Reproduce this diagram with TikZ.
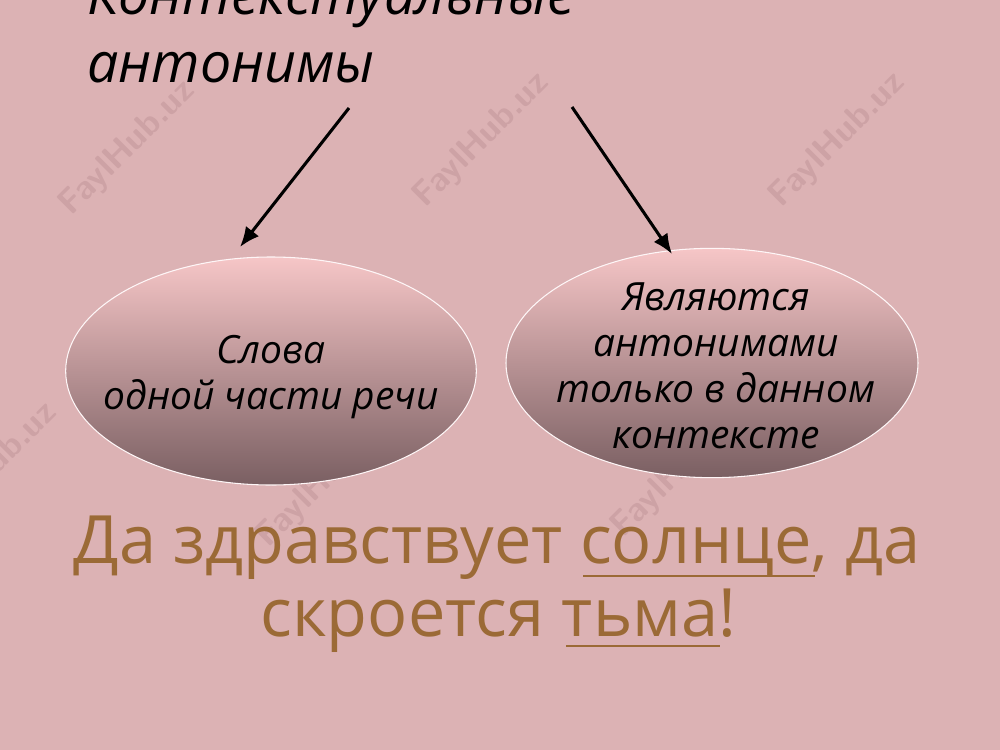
\documentclass[tikz,border=0pt]{standalone}
\usepackage{fontspec}
\setmainfont{Open Sans}
\usetikzlibrary{shapes.geometric,arrows.meta}
\definecolor{bg}{HTML}{DCB2B4}
\definecolor{eltop}{HTML}{F6C6C7}
\definecolor{elbot}{HTML}{7A5F62}
\definecolor{brownt}{HTML}{9B6A36}
\definecolor{wm}{HTML}{CDA2A5}
\tikzset{
  oval/.style={ellipse, draw=white!85!eltop, line width=0.8pt, top color=eltop, bottom color=elbot, inner sep=0pt},
  ovaltext/.style={align=center, font=\fontsize{29.2}{34.5}\selectfont\itshape, text=black},
  titletext/.style={font=\fontsize{41.6}{51}\selectfont\itshape, text=black, inner sep=0pt},
  saying/.style={font=\fontsize{50}{54}\selectfont, text=brownt, inner sep=0pt},
  arr/.style={-{Latex[length=15pt,width=12.5pt]}, line width=2.3pt, black},
  uline/.style={brownt, line width=2pt},
  wmark/.style={font=\sffamily\bfseries\fontsize{26}{26}\selectfont, text=wm, rotate=45, inner sep=0pt}
}
\begin{document}
\begin{tikzpicture}[x=0.75pt,y=-0.75pt]
\useasboundingbox (0,0) rectangle (1000,750);
\fill[bg] (0,0) rectangle (1000,750);
% watermarks
\node[wmark] (w1) at (128,148) {FaylHub.uz};
\node[wmark] (w2) at (482,140) {FaylHub.uz};
\node[wmark] (w3) at (838,140) {FaylHub.uz};
\node[wmark] (w4) at (-10,470) {FaylHub.uz};
\node[wmark] (w5) at (325,480) {FaylHub.uz};
\node[wmark] (w6) at (680,470) {FaylHub.uz};
% title
\node[titletext, anchor=base west] (title1) at (87,14) {Контекстуальные};
\node[titletext, anchor=base west] (title2) at (87,82) {антонимы};
% ellipses
\node[oval, minimum width=308pt, minimum height=171pt] (e1) at (271,371) {};
\node[oval, minimum width=309pt, minimum height=172pt] (e2) at (712,363) {};
\node[ovaltext] (l1) at (271,377) {Слова\\одной части речи};
\node[ovaltext] (l2) at (716,366) {Являются\\антонимами\\только в данном\\контексте};
% arrows
\coordinate (s1) at (349,108);
\coordinate (t1) at (240,247);
\coordinate (s2) at (572,107);
\coordinate (t2) at (672,254);
\draw[arr] (s1) -- (t1);
\draw[arr] (s2) -- (t2);
% saying
\node[saying, anchor=base] (say1) at (497,563) {Да здравствует солнце, да};
\node[saying, anchor=base] (say2) at (498.5,636) {скроется тьма!};
\draw[uline] (583,576) -- (815,576);
\draw[uline] (566,646) -- (720,646);
\end{tikzpicture}
\end{document}
